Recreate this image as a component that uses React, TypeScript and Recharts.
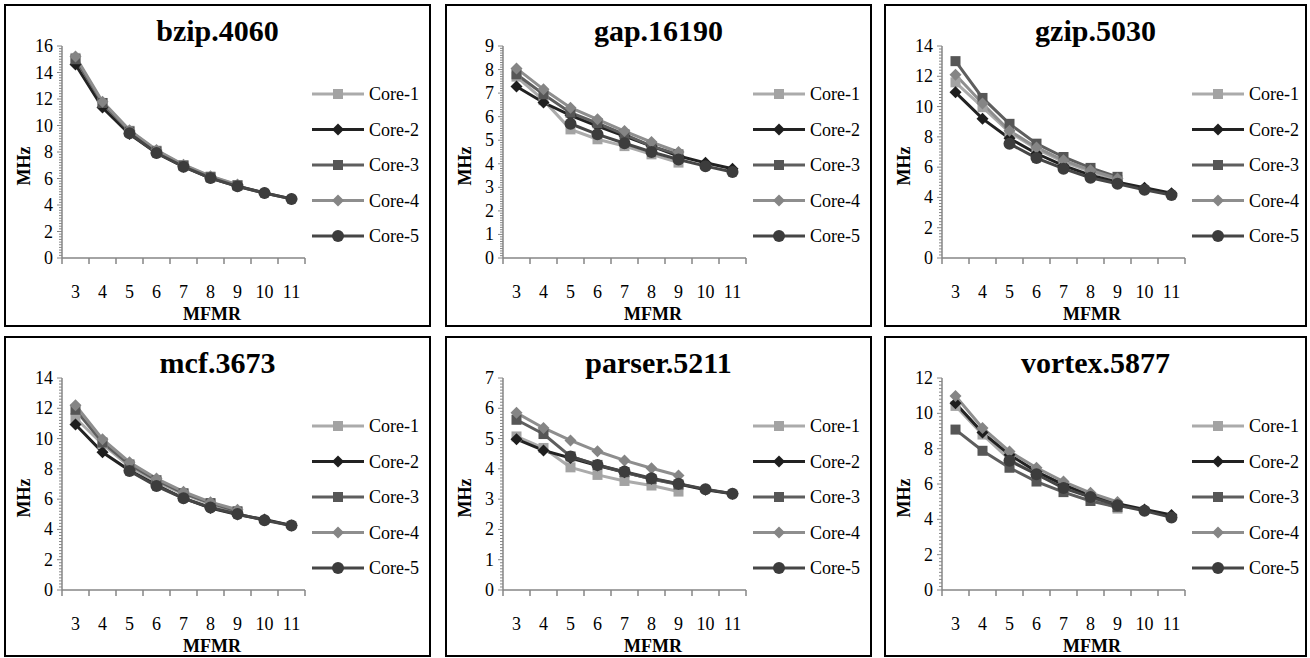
import React from 'react';
import { LineChart, Line, XAxis, YAxis, Legend, Label } from 'recharts';

// ---------- data ----------
const MFMR = [3, 4, 5, 6, 7, 8, 9, 10, 11];
const CORE_NAMES = ['Core-1', 'Core-2', 'Core-3', 'Core-4', 'Core-5'];
const PANEL_TITLES = ['bzip.4060', 'gap.16190', 'gzip.5030', 'mcf.3673', 'parser.5211', 'vortex.5877'];
const Y_MAX = [16, 9, 14, 14, 7, 12];
const Y_STEP = [2, 1, 2, 2, 1, 2];

const bzipCore1 = [15.1, 11.7, 9.6, 8.1, 7.0, 6.15, 5.5, null, null];
const bzipCore2 = [14.6, 11.35, 9.35, 7.92, 6.89, 6.04, 5.41, 4.91, 4.46];
const bzipCore3 = [15.0, 11.7, 9.55, 8.05, 6.98, 6.1, 5.48, null, null];
const bzipCore4 = [15.2, 11.8, 9.65, 8.15, 7.04, 6.17, 5.54, null, null];
const bzipCore5 = [null, null, 9.42, 7.92, 6.89, 6.04, 5.41, 4.91, 4.46];

const gapCore1 = [7.7, 6.7, 5.46, 5.04, 4.75, 4.4, 4.05, null, null];
const gapCore2 = [7.28, 6.6, 6.06, 5.6, 5.18, 4.75, 4.33, 4.04, 3.79];
const gapCore3 = [7.8, 6.95, 6.17, 5.72, 5.25, 4.75, 4.4, null, null];
const gapCore4 = [8.05, 7.16, 6.38, 5.89, 5.39, 4.92, 4.5, null, null];
const gapCore5 = [null, null, 5.7, 5.25, 4.87, 4.5, 4.18, 3.9, 3.65];

const gzipCore1 = [11.6, 9.96, 8.3, 7.2, 6.35, 5.7, 5.15, null, null];
const gzipCore2 = [10.94, 9.2, 7.9, 6.9, 6.1, 5.47, 5.0, 4.64, 4.27];
const gzipCore3 = [13.0, 10.57, 8.86, 7.55, 6.67, 5.95, 5.36, null, null];
const gzipCore4 = [12.1, 10.2, 8.4, 7.3, 6.45, 5.8, 5.25, null, null];
const gzipCore5 = [null, null, 7.55, 6.6, 5.9, 5.3, 4.9, 4.5, 4.16];

const mcfCore1 = [11.36, 9.63, 8.16, 7.14, 6.34, 5.67, 5.15, null, null];
const mcfCore2 = [10.93, 9.09, 7.9, 6.93, 6.06, 5.41, 4.98, 4.65, 4.26];
const mcfCore3 = [11.9, 9.74, 8.29, 7.25, 6.39, 5.74, 5.2, null, null];
const mcfCore4 = [12.2, 9.96, 8.44, 7.36, 6.49, 5.8, 5.3, null, null];
const mcfCore5 = [null, null, 7.86, 6.86, 6.06, 5.45, 5.02, 4.61, 4.26];

const parserCore1 = [5.07, 4.69, 4.05, 3.8, 3.6, 3.45, 3.25, null, null];
const parserCore2 = [4.98, 4.61, 4.36, 4.11, 3.89, 3.67, 3.5, 3.31, 3.18];
const parserCore3 = [5.62, 5.15, 4.41, 4.13, 3.89, 3.66, 3.48, null, null];
const parserCore4 = [5.85, 5.35, 4.94, 4.58, 4.28, 4.02, 3.78, null, null];
const parserCore5 = [null, null, 4.41, 4.13, 3.91, 3.69, 3.51, 3.33, 3.18];

const vortexCore1 = [10.42, 8.8, 7.38, 6.55, 5.85, 5.26, 4.61, null, null];
const vortexCore2 = [10.57, 8.91, 7.66, 6.7, 5.96, 5.35, 4.89, 4.56, 4.24];
const vortexCore3 = [9.08, 7.88, 6.92, 6.14, 5.54, 5.04, 4.7, null, null];
const vortexCore4 = [10.98, 9.17, 7.84, 6.92, 6.14, 5.5, 4.98, null, null];
const vortexCore5 = [null, null, 7.32, 6.55, 5.77, 5.26, 4.8, 4.48, 4.11];

const PANEL_SERIES = [
  [bzipCore1, bzipCore2, bzipCore3, bzipCore4, bzipCore5],
  [gapCore1, gapCore2, gapCore3, gapCore4, gapCore5],
  [gzipCore1, gzipCore2, gzipCore3, gzipCore4, gzipCore5],
  [mcfCore1, mcfCore2, mcfCore3, mcfCore4, mcfCore5],
  [parserCore1, parserCore2, parserCore3, parserCore4, parserCore5],
  [vortexCore1, vortexCore2, vortexCore3, vortexCore4, vortexCore5],
];

// ---------- styles ----------
const FONT = 'Liberation Serif, Times New Roman, serif';
const TXT: React.CSSProperties = { fontFamily: FONT };
const AXIS_COLOR = '#868686';
const SERIES_STYLE = [
  { line: '#ababab', fill: '#a3a3a3', shape: 'square' },
  { line: '#222222', fill: '#1e1e1e', shape: 'diamond' },
  { line: '#5e5e5e', fill: '#565656', shape: 'square' },
  { line: '#8e8e8e', fill: '#858585', shape: 'diamond' },
  { line: '#464646', fill: '#3c3c3c', shape: 'circle' },
];

const PANEL_POS = [
  { left: 4, top: 4, w: 427, h: 323 },
  { left: 445, top: 4, w: 427, h: 323 },
  { left: 884, top: 4, w: 423, h: 323 },
  { left: 4, top: 336, w: 427, h: 321 },
  { left: 445, top: 336, w: 427, h: 321 },
  { left: 884, top: 336, w: 423, h: 321 },
];

const PLOT_LEFT = 56;
const PLOT_RIGHT = 299;
const PLOT_TOP = 40;
const PLOT_BOTTOM = 252;

function marker(shape: string, cx: number, cy: number, fill: string, key?: any) {
  if (shape === 'square') {
    return <rect key={key} x={cx - 5} y={cy - 5} width={10} height={10} fill={fill} />;
  }
  if (shape === 'diamond') {
    return (
      <polygon
        key={key}
        points={`${cx},${cy - 6} ${cx + 6},${cy} ${cx},${cy + 6} ${cx - 6},${cy}`}
        fill={fill}
      />
    );
  }
  return <circle key={key} cx={cx} cy={cy} r={6} fill={fill} />;
}

const makeDot = (shape: string, fill: string) => (props: any) => {
  const { cx, cy, index, value } = props;
  if (cx == null || cy == null || isNaN(cx) || isNaN(cy) || value == null) {
    return <g key={`e${index}`} />;
  }
  return marker(shape, cx, cy, fill, `d${index}`);
};

const xTicks: number[] = [];
MFMR.forEach((m) => {
  xTicks.push(m - 0.5);
  xTicks.push(m);
});
xTicks.push(MFMR[MFMR.length - 1] + 0.5);

const XTick = (props: any) => {
  const { x, y, payload } = props;
  const v = payload.value;
  if (Number.isInteger(v)) {
    return (
      <text x={x} y={y + 40} textAnchor="middle" fontSize={18} style={TXT} fill="#000">
        {v}
      </text>
    );
  }
  return <line x1={x} x2={x} y1={y} y2={y + 6} stroke={AXIS_COLOR} strokeWidth={1.5} />;
};

const YTick = (props: any) => {
  const { x, y, payload, major } = props;
  const v = payload.value;
  const r = v / major;
  const isMajor = Math.abs(r - Math.round(r)) < 1e-6;
  return (
    <g>
      <line x1={x} x2={x - (isMajor ? 5 : 3)} y1={y} y2={y} stroke={AXIS_COLOR} strokeWidth={1} />
      {isMajor && (
        <text x={x - 9} y={y + 6} textAnchor="end" fontSize={18} style={TXT} fill="#000">
          {Math.round(v)}
        </text>
      )}
    </g>
  );
};

const LegendContent = () => (
  <svg width={120} height={190} style={{ overflow: 'visible' }}>
    {CORE_NAMES.map((name, i) => {
      const y = 18 + i * 35.5;
      const s = SERIES_STYLE[i];
      return (
        <g key={name}>
          <line x1={0} x2={52} y1={y} y2={y} stroke={s.line} strokeWidth={3} />
          {marker(s.shape, 26, y, s.fill)}
          <text x={57} y={y + 6} fontSize={18} style={TXT} fill="#000">
            {name}
          </text>
        </g>
      );
    })}
  </svg>
);

function Panel({ idx }: { idx: number }) {
  const pos = PANEL_POS[idx];
  const innerW = pos.w - 4;
  const innerH = pos.h - 4;
  const series = PANEL_SERIES[idx];
  const data = MFMR.map((m, i) => {
    const row: any = { x: m };
    series.forEach((arr, k) => {
      row[`c${k + 1}`] = arr[i];
    });
    return row;
  });
  const max = Y_MAX[idx];
  const step = Y_STEP[idx];
  const minor = step / 10;
  const yTicks = Array.from({ length: Math.round(max / minor) + 1 }, (_, i) => Math.round(i * minor * 1000) / 1000);

  return (
    <div
      style={{
        position: 'absolute',
        left: pos.left,
        top: pos.top,
        width: innerW,
        height: innerH,
        border: '2px solid #000',
        background: '#fff',
        fontFamily: FONT,
      }}
    >
      <div
        style={{
          position: 'absolute',
          left: 0,
          top: 10,
          width: innerW,
          textAlign: 'center',
          fontFamily: FONT,
          fontWeight: 'bold',
          fontSize: 30,
          lineHeight: '30px',
          color: '#000',
        }}
      >
        {PANEL_TITLES[idx]}
      </div>
      <LineChart
        width={innerW}
        height={innerH}
        data={data}
        margin={{ top: PLOT_TOP, right: innerW - PLOT_RIGHT, bottom: 0, left: 0 }}
        style={{ position: 'absolute', left: 0, top: 0, fontFamily: FONT }}
      >
        <XAxis
          type="number"
          dataKey="x"
          domain={[MFMR[0] - 0.5, MFMR[MFMR.length - 1] + 0.5]}
          ticks={xTicks}
          interval={0}
          height={innerH - PLOT_BOTTOM}
          tickSize={0}
          tickMargin={0}
          tickLine={false}
          axisLine={{ stroke: AXIS_COLOR, strokeWidth: 1.5 }}
          tick={(p: any) => <XTick {...p} />}
        >
          <Label
            content={(p: any) => {
              const vb = p.viewBox || {};
              return (
                <text
                  x={(vb.x ?? PLOT_LEFT) + 150}
                  y={(vb.y ?? PLOT_BOTTOM) + 62}
                  textAnchor="middle"
                  fontSize={18}
                  fontWeight="bold"
                  style={TXT}
                  fill="#000"
                >
                  MFMR
                </text>
              );
            }}
          />
        </XAxis>
        <YAxis
          type="number"
          domain={[0, max]}
          ticks={yTicks}
          interval={0}
          width={PLOT_LEFT}
          tickSize={0}
          tickMargin={0}
          tickLine={false}
          axisLine={{ stroke: AXIS_COLOR, strokeWidth: 1.5 }}
          tick={(p: any) => <YTick {...p} major={step} />}
        >
          <Label
            content={(p: any) => {
              const vb = p.viewBox || {};
              const cx = (vb.x ?? 0) + 18;
              const cy = (vb.y ?? PLOT_TOP) + 120;
              return (
                <text
                  x={cx}
                  y={cy}
                  transform={`rotate(-90, ${cx}, ${cy})`}
                  textAnchor="middle"
                  dominantBaseline="central"
                  fontSize={18}
                  fontWeight="bold"
                  style={TXT}
                  fill="#000"
                >
                  MHz
                </text>
              );
            }}
          />
        </YAxis>
        <Legend
          layout="horizontal"
          align="center"
          verticalAlign="middle"
          wrapperStyle={{ left: 306, top: 70, width: 120, height: 190 }}
          content={() => <LegendContent />}
        />
        {CORE_NAMES.map((name, k) => (
          <Line
            key={name}
            name={name}
            type="linear"
            dataKey={`c${k + 1}`}
            stroke={SERIES_STYLE[k].line}
            strokeWidth={3}
            dot={makeDot(SERIES_STYLE[k].shape, SERIES_STYLE[k].fill)}
            activeDot={false}
            isAnimationActive={false}
          />
        ))}
      </LineChart>
    </div>
  );
}

export default function App() {
  return (
    <div
      style={{
        position: 'absolute',
        left: 0,
        top: 0,
        width: 1310,
        height: 658,
        background: '#fff',
        overflow: 'hidden',
        fontFamily: FONT,
      }}
    >
      {PANEL_TITLES.map((_, i) => (
        <Panel key={i} idx={i} />
      ))}
    </div>
  );
}
